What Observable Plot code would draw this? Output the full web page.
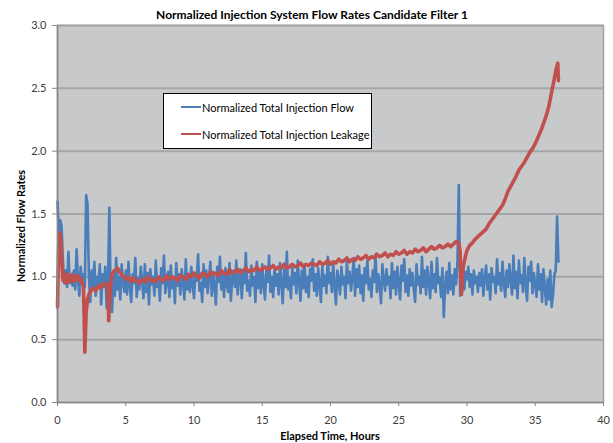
<!DOCTYPE html>
<html>
<head>
<meta charset="utf-8">
<script src="https://cdn.jsdelivr.net/npm/d3@7"></script>
<script src="https://cdn.jsdelivr.net/npm/@observablehq/plot@0.6"></script>
<style>
  body { margin: 0; background: #fff; }
  #wrap { position: relative; width: 613px; height: 443px; font-family: Lato, "Liberation Sans", sans-serif; }
  #title { position: absolute; left: 0; width: 624px; top: 7px; text-align: center; font-weight: bold; font-size: 12px; color: #000; }
  #xtitle { position: absolute; left: 57px; width: 546px; top: 429px; text-align: center; font-weight: bold; font-size: 11px; color: #000; }
  #ytitle { position: absolute; left: 20px; top: 226px; transform: translate(-50%, -50%) rotate(-90deg); white-space: nowrap; font-weight: bold; font-size: 11px; color: #000; }
  #legend { position: absolute; left: 163px; top: 93px; width: 209px; height: 56px; box-sizing: border-box; background: #fff; border: 1px solid #000; }
  .row { position: absolute; left: 17px; height: 14px; display: flex; align-items: center; font-size: 11px; color: #000; }
  .sw { width: 20px; height: 2px; margin-right: 1px; }
</style>
</head>
<body>
<div id="wrap">
  <div id="chart"></div>
  <div id="title"></div>
  <div id="xtitle"></div>
  <div id="ytitle"></div>
  <div id="legend"></div>
</div>
<script>
const chartTitle = "Normalized Injection System Flow Rates Candidate Filter 1";
const xTitle = "Elapsed Time, Hours";
const yTitle = "Normalized Flow Rates";
const seriesNames = ["Normalized Total Injection Flow", "Normalized Total Injection Leakage"];
const seriesColors = ["#4a7ebb", "#c0504d"];
const xTicks = [0, 5, 10, 15, 20, 25, 30, 35, 40];
const yTicks = [0, 0.5, 1.0, 1.5, 2.0, 2.5, 3.0];

// Flow: sampled every 0.1 h from 0 to 36.7 h
const flowStep = 0.1;
const flowValues = [
  1.60,1.35,1.45,1.40,1.12,0.95,1.05,0.92,1.20,0.95,
  1.00,0.93,1.05,0.90,1.22,0.98,0.85,1.08,0.95,1.02,
  0.92,1.65,1.58,1.00,0.80,1.05,0.90,1.12,0.85,1.00,
  0.95,1.10,0.78,1.02,0.92,1.08,0.75,0.98,1.55,0.80,
  0.72,1.05,0.85,1.15,0.90,1.00,0.82,1.10,0.95,0.88,
  1.05,0.86,1.12,0.93,0.80,1.02,0.95,1.15,0.84,0.99,
  0.90,1.08,0.97,0.83,1.10,0.88,1.03,0.78,1.06,0.94,
  1.00,0.85,1.13,0.92,0.98,0.81,1.07,0.95,1.17,0.87,
  0.96,1.04,0.84,1.09,0.91,0.99,0.79,1.11,0.93,1.02,
  0.86,1.06,0.95,0.82,1.14,0.90,1.01,0.88,1.08,0.94,
  0.83,1.03,0.97,1.18,0.89,0.95,0.80,1.10,0.92,1.05,
  0.87,0.99,1.12,0.85,1.04,0.93,0.78,1.08,0.96,1.16,
  0.90,1.01,0.84,1.07,0.94,0.88,1.11,0.81,0.98,1.05,
  0.92,1.13,0.86,0.99,1.06,0.83,1.02,0.95,1.19,0.89,
  0.97,0.85,1.09,0.93,1.00,0.80,1.12,0.91,1.04,0.87,
  1.10,0.94,0.82,1.05,0.96,1.17,0.88,1.00,0.84,1.07,
  0.93,1.02,0.86,1.11,0.95,0.79,1.06,0.92,1.20,0.90,
  0.99,0.83,1.08,0.94,1.03,0.87,1.13,0.96,0.81,1.05,
  0.91,1.10,0.88,1.00,0.84,1.06,0.97,1.14,0.89,1.02,
  0.85,1.07,0.94,0.80,1.09,0.93,1.01,0.87,1.16,0.95,
  1.03,0.88,1.11,0.92,0.78,1.05,0.97,0.86,1.08,0.94,
  1.00,0.83,1.12,0.95,1.04,0.89,0.99,1.15,0.85,1.06,
  0.92,1.09,0.87,1.01,0.81,1.07,0.95,1.13,0.90,0.98,
  0.84,1.05,0.96,1.18,0.88,1.02,0.93,0.79,1.10,0.97,
  0.89,1.06,0.94,1.00,0.83,1.11,0.91,1.04,0.86,1.08,
  0.95,0.82,1.09,0.97,1.14,0.88,1.01,0.85,1.06,0.93,
  1.03,0.90,0.80,1.10,0.94,1.00,0.87,1.16,0.92,1.05,
  0.86,1.08,0.96,0.83,1.12,0.91,1.02,0.88,1.15,0.95,
  0.99,0.84,1.07,0.68,0.93,1.04,0.87,1.11,0.90,1.01,
  0.86,1.06,0.94,1.12,1.73,0.85,0.95,1.10,0.90,1.04,
  0.98,1.08,0.92,1.02,0.86,1.05,0.95,1.00,0.88,1.03,
  0.93,1.06,0.85,0.99,1.09,0.90,1.02,0.82,1.07,0.96,
  1.00,0.87,1.14,0.94,1.03,0.89,1.12,0.95,0.84,1.05,
  0.92,1.10,0.97,0.86,1.17,0.91,1.04,0.83,1.13,0.95,
  1.01,0.88,1.15,0.93,0.81,1.08,0.97,1.12,0.87,1.03,
  0.94,0.84,1.10,0.90,1.02,0.80,1.06,0.92,0.78,0.98,
  0.82,1.05,0.76,0.85,1.02,1.05,1.48,1.12
];

// Leakage: irregular sample times (hours) and values
const leakHours = [
  0.00,0.05,0.10,0.15,0.20,0.25,0.30,0.35,0.40,0.50,0.60,0.70,0.80,0.90,
  1.00,1.10,1.20,1.30,1.40,1.50,1.60,1.70,1.80,1.90,1.95,2.00,2.05,2.10,2.20,2.30,2.40,2.60,2.80,
  3.00,3.20,3.40,3.60,3.70,3.75,3.80,3.90,4.00,4.20,4.40,4.60,4.80,5.00,
  5.2,5.4,5.6,5.8,6.0,6.2,6.4,6.6,6.8,7.0,
  7.2,7.4,7.6,7.8,8.0,8.2,8.4,8.6,8.8,9.0,
  9.2,9.4,9.6,9.8,10.0,10.2,10.4,10.6,10.8,11.0,
  11.2,11.4,11.6,11.8,12.0,12.2,12.4,12.6,12.8,13.0,
  13.2,13.4,13.6,13.8,14.0,14.2,14.4,14.6,14.8,15.0,
  15.2,15.4,15.6,15.8,16.0,16.2,16.4,16.6,16.8,17.0,
  17.2,17.4,17.6,17.8,18.0,18.2,18.4,18.6,18.8,19.0,
  19.2,19.4,19.6,19.8,20.0,20.2,20.4,20.6,20.8,21.0,
  21.2,21.4,21.6,21.8,22.0,22.2,22.4,22.6,22.8,23.0,
  23.2,23.4,23.6,23.8,24.0,24.2,24.4,24.6,24.8,25.0,
  25.2,25.4,25.6,25.8,26.0,26.2,26.4,26.6,26.8,27.0,
  27.2,27.4,27.6,27.8,28.0,28.2,28.4,28.6,28.8,29.0,
  29.2,29.4,29.5,29.55,29.6,29.65,29.7,29.8,29.9,30.0,
  30.2,30.4,30.6,30.8,31.0,31.2,31.4,31.6,31.8,32.0,
  32.2,32.4,32.6,32.8,33.0,33.2,33.4,33.6,33.8,34.0,
  34.2,34.4,34.6,34.8,35.0,35.2,35.4,35.6,35.8,36.0,
  36.2,36.4,36.55,36.65,36.7
];
const leakValues = [
  0.76,1.05,1.30,1.35,1.33,1.28,1.15,1.05,0.97,1.03,0.95,1.02,0.96,1.00,
  0.97,1.02,0.96,1.00,0.98,1.01,0.97,0.99,0.96,0.92,0.70,0.40,0.55,0.72,0.82,0.86,0.88,0.91,0.89,
  0.93,0.91,0.95,0.93,0.94,0.65,0.78,0.95,1.02,1.05,1.07,1.03,1.01,0.98,
  1.00,0.96,0.99,0.97,0.95,0.98,0.96,1.00,0.97,0.98,
  0.96,1.00,0.98,0.97,1.01,0.98,1.00,0.99,0.97,1.01,
  1.00,0.98,1.02,1.00,1.03,1.01,0.99,1.03,1.02,1.00,
  1.04,1.02,1.03,1.01,1.05,1.03,1.02,1.06,1.03,1.04,
  1.06,1.03,1.05,1.07,1.04,1.06,1.05,1.08,1.05,1.06,
  1.08,1.06,1.07,1.09,1.06,1.08,1.07,1.10,1.07,1.08,
  1.10,1.08,1.09,1.11,1.08,1.10,1.09,1.11,1.10,1.09,
  1.12,1.10,1.11,1.13,1.10,1.12,1.11,1.14,1.12,1.13,
  1.15,1.12,1.14,1.13,1.16,1.14,1.15,1.17,1.14,1.16,
  1.15,1.18,1.16,1.17,1.19,1.16,1.18,1.17,1.20,1.18,
  1.19,1.21,1.18,1.20,1.19,1.22,1.20,1.21,1.23,1.20,
  1.22,1.24,1.22,1.23,1.25,1.23,1.24,1.26,1.24,1.26,
  1.28,1.27,1.20,0.95,0.86,0.98,1.06,1.12,1.17,1.21,
  1.25,1.27,1.30,1.32,1.34,1.36,1.38,1.42,1.45,1.48,
  1.51,1.54,1.57,1.62,1.68,1.72,1.76,1.80,1.85,1.88,
  1.91,1.95,1.99,2.02,2.06,2.11,2.16,2.22,2.28,2.36,
  2.47,2.58,2.66,2.70,2.56
];

const flow = flowValues.map((v, i) => ({hours: +(i * flowStep).toFixed(2), value: v}));
const leak = leakHours.map((h, i) => ({hours: h, value: leakValues[i]}));

const chart = Plot.plot({
  width: 613,
  height: 443,
  marginLeft: 57,
  marginRight: 10,
  marginTop: 25,
  marginBottom: 41,
  style: {fontFamily: "Lato, 'Liberation Sans', sans-serif", fontSize: "11px", color: "#404040", background: "transparent"},
  x: {domain: [0, 40], ticks: xTicks, tickFormat: d => String(d), label: null},
  y: {domain: [0, 3], ticks: yTicks, tickFormat: d => d.toFixed(1), label: null},
  marks: [
    Plot.frame({fill: "#c8c9cb", stroke: "#a3a3a3", strokeWidth: 1.5}),
    Plot.gridY(yTicks.slice(1), {stroke: "#a6a6a6", strokeOpacity: 1, strokeWidth: 2}),
    Plot.line(flow, {x: "hours", y: "value", stroke: seriesColors[0], strokeWidth: 2.6}),
    Plot.line(leak, {x: "hours", y: "value", stroke: seriesColors[1], strokeWidth: 3.6}),
    Plot.ruleX([0], {stroke: "#868686", strokeWidth: 1.5}),
    Plot.ruleY([0], {stroke: "#868686", strokeWidth: 1.5}),
    Plot.axisX(xTicks, {tickSize: 4, tickPadding: 10, stroke: "#868686"}),
    Plot.axisY(yTicks, {tickSize: 5, tickPadding: 6, stroke: "#868686"})
  ]
});
document.getElementById("chart").appendChild(chart);

document.getElementById("title").textContent = chartTitle;
document.getElementById("xtitle").textContent = xTitle;
document.getElementById("ytitle").textContent = yTitle;
const legend = document.getElementById("legend");
seriesNames.forEach((name, i) => {
  const row = document.createElement("div");
  row.className = "row";
  row.style.top = (i === 0 ? 6 : 33) + "px";
  const sw = document.createElement("span");
  sw.className = "sw";
  sw.style.background = seriesColors[i];
  const label = document.createElement("span");
  label.textContent = name;
  row.appendChild(sw);
  row.appendChild(label);
  legend.appendChild(row);
});
</script>
</body>
</html>
